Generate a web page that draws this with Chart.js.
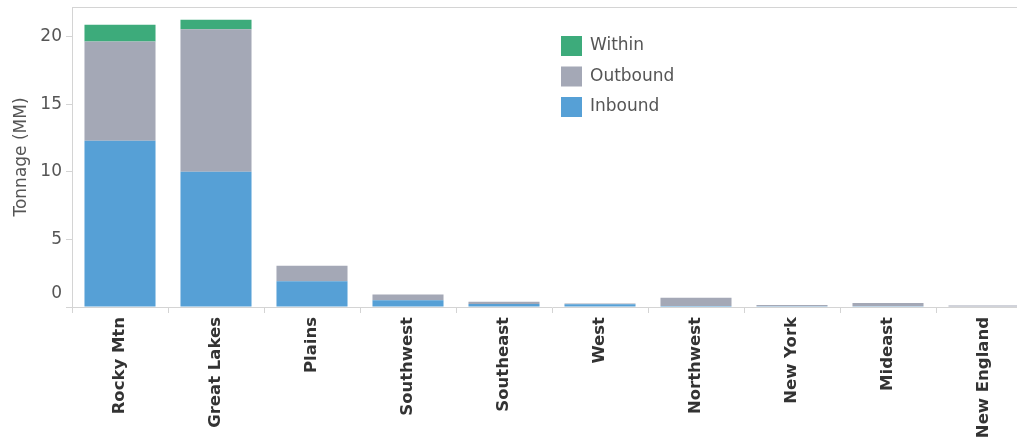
<!DOCTYPE html>
<html>
<head>
<meta charset="utf-8">
<script src="https://cdn.jsdelivr.net/npm/chart.js@4"></script>
<style>
  html, body { margin: 0; padding: 0; background: #fff; overflow: hidden; }
  #wrap { width: 1040px; height: 438px; }
</style>
</head>
<body>
<div id="wrap"><canvas id="chart" width="1040" height="438"></canvas></div>
<script>
// regions, sorted by total tonnage
const regions = ['Rocky Mtn', 'Great Lakes', 'Plains', 'Southwest', 'Southeast', 'West', 'Northwest', 'New York', 'Mideast', 'New England'];
// tonnage (MM) per flow type
const inbound  = [12.3, 10.0, 1.9, 0.5, 0.22, 0.2, 0.08, 0.05, 0.05, 0.04];
const outbound = [7.35, 10.55, 1.15, 0.42, 0.16, 0.06, 0.6, 0.1, 0.25, 0.07];
const within   = [1.23, 0.7, 0, 0, 0, 0, 0, 0, 0, 0];
const yTicks = [0, 5, 10, 15, 20];

const COLORS = {
  within: '#3dab7b',
  outbound: '#a4a8b6',
  inbound: '#56a0d6',
  axis: '#d4d4d4',
  text: '#555555',
};

// legend drawn inside the plot, top to bottom: Within, Outbound, Inbound
const legendPlugin = {
  id: 'innerLegend',
  afterDraw(chart) {
    const ctx = chart.ctx;
    const items = chart.data.datasets.slice().reverse();
    ctx.save();
    ctx.font = '17px "DejaVu Sans", sans-serif';
    ctx.textBaseline = 'middle';
    ctx.textAlign = 'left';
    items.forEach((ds, i) => {
      const y = 36 + i * 30.5;
      ctx.fillStyle = ds.backgroundColor;
      ctx.fillRect(561, y, 21, 20);
      ctx.fillStyle = COLORS.text;
      ctx.fillText(ds.label, 590, y + 10);
    });
    ctx.restore();
  },
};

// thin frame line along the top of the plot
const topLinePlugin = {
  id: 'topLine',
  afterDraw(chart) {
    const { ctx, chartArea } = chart;
    ctx.save();
    ctx.strokeStyle = COLORS.axis;
    ctx.lineWidth = 1;
    ctx.beginPath();
    ctx.moveTo(chartArea.left, chartArea.top + 0.5);
    ctx.lineTo(chartArea.right, chartArea.top + 0.5);
    ctx.stroke();
    ctx.restore();
  },
};

new Chart(document.getElementById('chart'), {
  type: 'bar',
  data: {
    labels: regions,
    datasets: [
      { label: 'Inbound', data: inbound, backgroundColor: COLORS.inbound },
      { label: 'Outbound', data: outbound, backgroundColor: COLORS.outbound },
      { label: 'Within', data: within, backgroundColor: COLORS.within },
    ],
  },
  options: {
    responsive: false,
    animation: false,
    layout: { padding: { top: 7, right: 8, left: 0, bottom: 0 } },
    datasets: {
      bar: { barPercentage: 0.74, categoryPercentage: 1, borderWidth: 0 },
    },
    plugins: {
      legend: { display: false },
      tooltip: { enabled: false },
    },
    scales: {
      x: {
        stacked: true,
        afterFit: s => { s.height = 131; s.paddingLeft = 0; s.paddingRight = 0; },
        border: { display: true, color: COLORS.axis },
        grid: { offset: true, drawOnChartArea: false, drawTicks: true, tickLength: 6, color: COLORS.axis },
        ticks: {
          autoSkip: false,
          maxRotation: 90,
          minRotation: 90,
          padding: 4,
          color: '#333333',
          font: { family: '"DejaVu Sans", sans-serif', size: 16.5, weight: 'bold' },
        },
      },
      y: {
        stacked: true,
        min: 0,
        max: 22.2,
        afterFit: s => { s.width = 72; s.paddingTop = 0; s.paddingBottom = 0; },
        afterBuildTicks: s => { s.ticks = yTicks.map(v => ({ value: v })); },
        border: { display: true, color: COLORS.axis },
        grid: { drawOnChartArea: false, drawTicks: true, tickLength: 6, color: COLORS.axis },
        title: {
          display: true,
          text: 'Tonnage (MM)',
          color: COLORS.text,
          font: { family: '"DejaVu Sans", sans-serif', size: 17 },
          padding: { top: 11, bottom: 0 },
        },
        ticks: {
          padding: 4,
          color: COLORS.text,
          font: { family: '"DejaVu Sans", sans-serif', size: 17, lineHeight: 1.6 },
          // the zero label sits raised above the baseline
          callback: v => (v === 0 ? ['0', ''] : String(v)),
        },
      },
    },
  },
  plugins: [legendPlugin, topLinePlugin],
});
</script>
</body>
</html>
